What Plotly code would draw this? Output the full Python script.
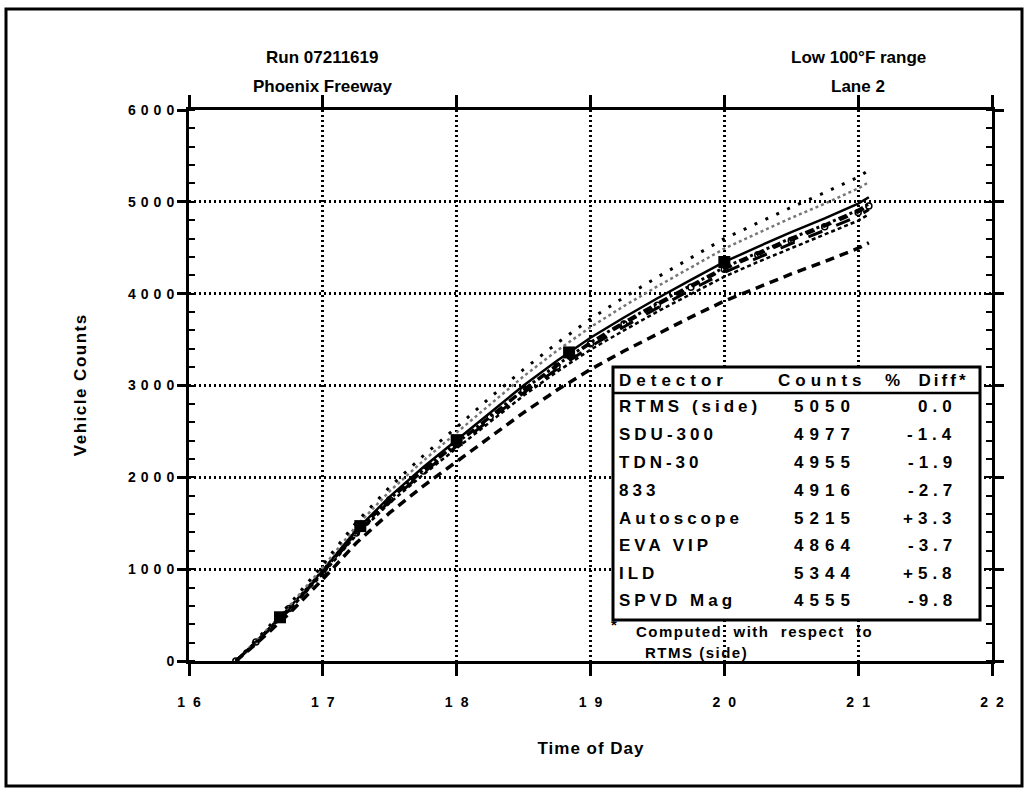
import plotly.graph_objects as go

# Time of day (decimal hours) at which the cumulative counts were sampled
times = [16.35, 16.5, 16.75, 17.0, 17.25, 17.5, 17.75, 18.0, 18.25, 18.5, 18.75,
         19.0, 19.25, 19.5, 19.75, 20.0, 20.25, 20.5, 20.75, 21.0, 21.08]

# Cumulative vehicle counts per detector
rtms = [0, 210, 580, 990, 1425, 1790, 2110, 2405, 2710, 3000, 3270,
        3520, 3740, 3950, 4150, 4345, 4510, 4670, 4820, 4980, 5050]
sdu300 = [0, 205, 570, 975, 1405, 1765, 2080, 2370, 2670, 2955, 3225,
          3470, 3690, 3895, 4090, 4285, 4445, 4605, 4750, 4910, 4977]
tdn30 = [0, 208, 572, 970, 1395, 1755, 2070, 2360, 2660, 2945, 3210,
         3455, 3670, 3875, 4070, 4265, 4425, 4580, 4730, 4885, 4955]
d833 = [0, 200, 562, 962, 1385, 1740, 2050, 2340, 2635, 2920, 3180,
        3425, 3640, 3845, 4040, 4230, 4390, 4545, 4690, 4845, 4916]
autoscope = [0, 215, 600, 1020, 1470, 1850, 2180, 2485, 2800, 3100, 3380,
             3635, 3865, 4080, 4285, 4490, 4660, 4825, 4980, 5145, 5215]
eva_vip = [0, 198, 555, 950, 1370, 1722, 2030, 2315, 2610, 2890, 3150,
           3390, 3600, 3805, 3995, 4185, 4345, 4495, 4640, 4795, 4864]
ild = [0, 225, 615, 1050, 1510, 1895, 2235, 2545, 2870, 3175, 3460,
       3725, 3960, 4180, 4390, 4600, 4770, 4940, 5100, 5270, 5344]
spvd_mag = [0, 185, 520, 890, 1285, 1615, 1905, 2170, 2445, 2705, 2950,
            3175, 3375, 3565, 3745, 3920, 4070, 4215, 4350, 4495, 4555]

# Highlighted samples on the reference detector
rtms_marker_times = [16.68, 17.28, 18.0, 18.84, 20.0]
rtms_marker_counts = [476, 1469, 2405, 3360, 4345]

# Summary table
detectors = ["RTMS (side)", "SDU-300", "TDN-30", "833", "Autoscope", "EVA VIP", "ILD", "SPVD Mag"]
total_counts = [5050, 4977, 4955, 4916, 5215, 4864, 5344, 4555]
pct_diff = ["0.0", "-1.4", "-1.9", "-2.7", "+3.3", "-3.7", "+5.8", "-9.8"]

x_tick_values = [16, 17, 18, 19, 20, 21, 22]
x_tick_labels = ["16", "17", "18", "19", "20", "21", "22"]
y_tick_values = [0, 1000, 2000, 3000, 4000, 5000, 6000]
y_tick_labels = ["0", "1000", "2000", "3000", "4000", "5000", "6000"]

series = [
    ("RTMS (side)", rtms, dict(color="black", width=2.5, dash="solid"), None),
    ("SDU-300", sdu300, dict(color="black", width=3, dash="dashdot"), None),
    ("TDN-30", tdn30, dict(color="black", width=2.5, dash="dash"),
     dict(symbol="circle-open", size=6, color="black", line=dict(width=1.5))),
    ("833", d833, dict(color="black", width=3, dash="longdash"), None),
    ("Autoscope", autoscope, dict(color="#777777", width=2.5, dash="dot"), None),
    ("EVA VIP", eva_vip, dict(color="black", width=2.5, dash="4px,3px"), None),
    ("ILD", ild, dict(color="black", width=3, dash="3px,9px"), None),
    ("SPVD Mag", spvd_mag, dict(color="black", width=3.5, dash="9px,6px"), None),
]

FONT = "Liberation Sans"

# Plot-area geometry in pixels
W, H = 1029, 792
L, R, T, B = 189, 992, 110, 661


def px(x):
    return (x - L) / (R - L)


def py(y):
    return (B - y) / (B - T)


def spaced(text, gap):
    # track every character except the last so anchoring stays balanced
    if len(text) < 2:
        return text
    return f'<span style="letter-spacing:{gap}px">{text[:-1]}</span>{text[-1]}'


fig = go.Figure()
for name, values, line, marker in series:
    fig.add_trace(go.Scatter(
        x=times, y=values, name=name,
        mode="lines+markers" if marker else "lines",
        line=line, marker=marker, showlegend=False,
    ))

fig.add_trace(go.Scatter(
    x=rtms_marker_times, y=rtms_marker_counts, mode="markers",
    marker=dict(symbol="square", size=12, color="black"),
    showlegend=False, name="RTMS (side)",
))

axis_common = dict(
    showline=True, linewidth=3, linecolor="black", mirror="ticks",
    ticks="outside", tickwidth=3, tickcolor="black",
    showgrid=True, gridcolor="black", gridwidth=2.5, griddash="2px,3px",
    zeroline=False,
    tickfont=dict(family=FONT, size=14, color="black", weight="bold"),
)

fig.update_xaxes(
    range=[16, 22], tickvals=x_tick_values,
    ticktext=[spaced(t, 8) for t in x_tick_labels],
    ticklen=12, ticklabelstandoff=14,
    title=dict(text=spaced("Time of Day", 1),
               font=dict(family=FONT, size=17, color="black", weight="bold"),
               standoff=34),
    **axis_common,
)
fig.update_yaxes(
    range=[0, 6000], tickvals=y_tick_values,
    ticktext=[spaced(t, 5) for t in y_tick_labels],
    ticklen=9,
    minor=dict(dtick=200, ticks="inside", ticklen=6, tickwidth=2, tickcolor="black",
               showgrid=False),
    title=dict(text=spaced("Vehicle Counts", 1.5),
               font=dict(family=FONT, size=17, color="black", weight="bold"),
               standoff=38),
    **axis_common,
)

shapes = [
    # outer frame
    dict(type="rect", xref="paper", yref="paper",
         x0=px(6), x1=px(1022), y0=py(786), y1=py(9),
         line=dict(color="black", width=3), layer="above"),
    # summary table box
    dict(type="rect", xref="paper", yref="paper",
         x0=px(613), x1=px(980), y0=py(620), y1=py(367),
         line=dict(color="black", width=3), fillcolor="white", layer="above"),
    dict(type="line", xref="paper", yref="paper",
         x0=px(613), x1=px(980), y0=py(393), y1=py(393),
         line=dict(color="black", width=2.5), layer="above"),
]

tfont = dict(family=FONT, size=17, color="black", weight="bold")
annotations = []


def label(text, x, y, anchor="left", font=tfont):
    annotations.append(dict(
        text=text, xref="paper", yref="paper", x=px(x), y=py(y),
        xanchor=anchor, yanchor="middle", showarrow=False, font=font,
    ))


label(spaced("Detector", 5), 617, 380)
label(spaced("Counts", 5), 820, 380, "center")
label('<span style="letter-spacing:3px">% &nbsp;Diff</span>*', 968, 380, "right")

row_y = [406, 434, 462, 490, 518, 545, 573, 600]
for name, cnt, diff, y in zip(detectors, total_counts, pct_diff, row_y):
    label(spaced(name, 4), 617, y)
    label(spaced(str(cnt), 6), 822, y, "center")
    label(spaced(diff, 5), 954, y, "right")

nfont = dict(family=FONT, size=15, color="black", weight="bold")
label("*", 609, 624, font=nfont)
label('<span style="letter-spacing:1.5px">Computed &nbsp;with &nbsp;respect &nbsp;t</span>o',
      634, 631, font=nfont)
label(spaced("RTMS (side)", 1.5), 643, 652, font=nfont)

hfont = dict(family=FONT, size=17, color="black", weight="bold")
label("Run 07211619", 322, 57, "center", hfont)
label("Phoenix Freeway", 322, 86, "center", hfont)
label("Low 100°F range", 858, 57, "center", hfont)
label("Lane 2", 858, 86, "center", hfont)

fig.update_layout(
    width=W, height=H,
    margin=dict(l=L, r=W - R, t=T, b=H - B),
    paper_bgcolor="white", plot_bgcolor="white",
    shapes=shapes, annotations=annotations,
)

fig.write_html("out.html")
